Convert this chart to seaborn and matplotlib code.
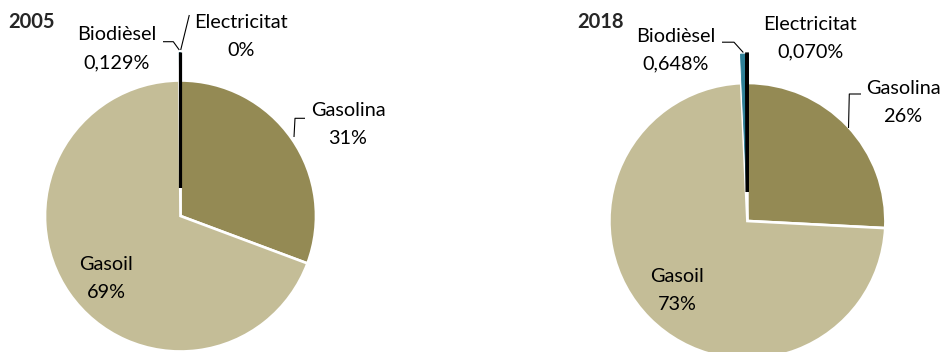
import matplotlib
matplotlib.use("Agg")
import matplotlib.pyplot as plt
import seaborn as sns

# Energy share of road transport fuels (%)
categories = ["Gasolina", "Gasoil", "Biodièsel", "Electricitat"]
values_2005 = [30.7, 69.2, 0.129, 0.0]
values_2018 = [25.8, 73.4, 0.648, 0.070]
labels_2005 = ["31%", "69%", "0,129%", "0%"]
labels_2018 = ["26%", "73%", "0,648%", "0,070%"]
years = ["2005", "2018"]

palette = ["#948A54", "#C4BD97", "#2E7F96", "#000000"]

sns.set_theme(style="white")
plt.rcParams["font.family"] = ["Lato", "DejaVu Sans"]

W, H = 946, 352
fig = plt.figure(figsize=(W / 100, H / 100), dpi=100)
ax = fig.add_axes([0, 0, 1, 1])


def Y(y):
    """Convert a top-down pixel row into the axis' upward coordinate."""
    return H - y


def draw_pie(values, cx, cy, r, pull):
    wedges, _ = ax.pie(
        values,
        colors=palette,
        startangle=90,
        counterclock=False,
        explode=[0, 0, pull, pull],
        radius=r,
        center=(cx, Y(cy)),
        normalize=True,
        wedgeprops=dict(edgecolor="white", linewidth=1.9),
    )
    wedges[2].set_edgecolor(palette[2])
    wedges[2].set_linewidth(0.6)
    wedges[3].set_edgecolor("black")
    wedges[3].set_linewidth(2.3)
    wedges[3].set_zorder(3)
    return wedges


draw_pie(values_2005, 180.5, 216, 135.5, 28)
draw_pie(values_2018, 747.4, 221, 138, 29)

fs = 14.3
txt = dict(fontsize=fs, color="black", ha="center", va="center")


def label(x, y1, name, pct):
    ax.text(x, Y(y1), name, **txt)
    ax.text(x, Y(y1 + 28), pct, **txt)


def leader(xs, ys):
    ax.plot(xs, [Y(v) for v in ys], color="black", lw=0.8,
            solid_capstyle="butt", zorder=4)


# 2005
ax.text(8, Y(22), years[0], fontsize=14.5, fontweight="bold", ha="left", va="center")
label(117, 35, categories[2], labels_2005[2])
label(241, 23, categories[3], labels_2005[3])
label(348, 110, categories[0], labels_2005[0])
label(106, 265, categories[1], labels_2005[1])
leader([163, 173.3, 179.3], [41.7, 41.7, 50])
leader([180.7, 189.3], [50, 15])
leader([305, 295, 294], [118.3, 118.3, 137])

# 2018
ax.text(577, Y(22), years[1], fontsize=14.5, fontweight="bold", ha="left", va="center")
label(676, 36, categories[2], labels_2018[2])
label(810, 24, categories[3], labels_2018[3])
label(903, 88, categories[0], labels_2018[0])
label(677, 277, categories[1], labels_2018[1])
leader([722, 734, 743.3], [42.2, 42.2, 52.5])
leader([861, 849.3, 848.5], [94, 94, 128])

ax.set_xlim(0, W)
ax.set_ylim(0, H)
ax.set_aspect("equal")
ax.axis("off")

fig.savefig("out.png", dpi=100)
